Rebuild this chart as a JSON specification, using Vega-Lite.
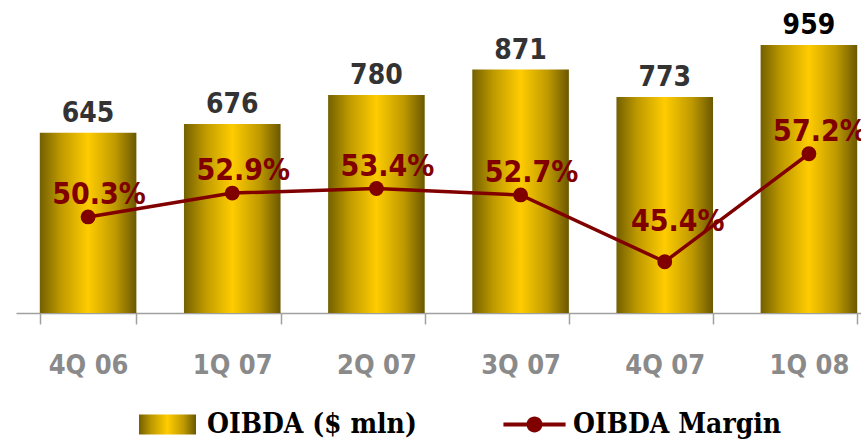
{
  "$schema": "https://vega.github.io/schema/vega-lite/v6.json",
  "width": 845,
  "height": 313,
  "autosize": "none",
  "padding": {"left": 16, "top": 0, "right": 0, "bottom": 126},
  "background": "white",
  "data": {
    "values": [
      {"q": "4Q 06", "oibda": 645, "margin": 0.503, "bar": "OIBDA ($ mln)", "series": "OIBDA Margin"},
      {"q": "1Q 07", "oibda": 676, "margin": 0.529, "bar": "OIBDA ($ mln)", "series": "OIBDA Margin"},
      {"q": "2Q 07", "oibda": 780, "margin": 0.534, "bar": "OIBDA ($ mln)", "series": "OIBDA Margin"},
      {"q": "3Q 07", "oibda": 871, "margin": 0.527, "bar": "OIBDA ($ mln)", "series": "OIBDA Margin"},
      {"q": "4Q 07", "oibda": 773, "margin": 0.454, "bar": "OIBDA ($ mln)", "series": "OIBDA Margin"},
      {"q": "1Q 08", "oibda": 959, "margin": 0.572, "bar": "OIBDA ($ mln)", "series": "OIBDA Margin"}
    ]
  },
  "encoding": {
    "x": {
      "field": "q", "type": "nominal", "sort": null, "title": null,
      "scale": {"range": [0, 865], "paddingInner": 0.33, "paddingOuter": 0.165},
      "axis": {
        "labelAngle": 0, "labelFont": "DejaVu Sans Condensed, DejaVu Sans", "labelFontWeight": "bold",
        "labelFontSize": 27, "labelColor": "#8a8a8a", "labelPadding": 28,
        "domainColor": "#a0a0a0", "domainWidth": 1.5, "tickColor": "#a0a0a0", "tickWidth": 1.5,
        "tickSize": 11, "tickBand": "extent", "grid": false
      }
    }
  },
  "layer": [
    {
      "mark": {
        "type": "bar",
        "strokeWidth": 0,
        "fill": {
          "gradient": "linear", "x1": 0, "x2": 1, "y1": 0, "y2": 0,
          "stops": [
            {"offset": 0, "color": "#736000"},
            {"offset": 0.22, "color": "#bf9a00"},
            {"offset": 0.5, "color": "#ffcc00"},
            {"offset": 0.78, "color": "#bf9a00"},
            {"offset": 1, "color": "#6b5800"}
          ]
        }
      },
      "encoding": {
        "y": {"field": "oibda", "type": "quantitative", "scale": {"domain": [0, 1120], "nice": false}, "axis": null},
        "stroke": {
          "field": "bar", "type": "nominal",
          "scale": {"range": ["#ffcc00"]},
          "legend": {
            "title": null, "orient": "none", "legendX": 123, "legendY": 396, "direction": "horizontal",
            "padding": 0, "symbolSize": 3249, "symbolType": "M-1,-0.35L1,-0.35L1,0.35L-1,0.35Z",
            "symbolStrokeWidth": 0, "symbolOpacity": 1,
            "labelFont": "DejaVu Serif Condensed, DejaVu Serif",
            "labelFontWeight": "bold", "labelFontSize": 28, "labelColor": "#000000", "labelOffset": 11,
            "labelLimit": 400
          }
        }
      }
    },
    {
      "mark": {"type": "text", "baseline": "alphabetic", "dy": -11, "font": "DejaVu Sans Condensed, DejaVu Sans", "fontWeight": "bold", "fontSize": 28},
      "encoding": {
        "y": {"field": "oibda", "type": "quantitative", "scale": {"domain": [0, 1120], "nice": false}, "axis": null},
        "text": {"field": "oibda", "type": "quantitative"},
        "color": {"condition": {"test": "datum.q === '1Q 08'", "value": "#000000"}, "value": "#333333"}
      }
    },
    {
      "mark": {"type": "line", "strokeWidth": 3.5, "point": {"size": 220, "filled": true, "opacity": 1}},
      "encoding": {
        "y": {"field": "margin", "type": "quantitative", "scale": {"domain": [0.398, 0.740], "nice": false, "zero": false}, "axis": null},
        "color": {
          "field": "series", "type": "nominal",
          "scale": {"range": ["#800000"]},
          "legend": {
            "title": null, "orient": "none", "legendX": 490, "legendY": 396, "direction": "horizontal",
            "padding": 0, "symbolSize": 3249,
            "symbolType": "M-1.09,-0.07L1.09,-0.07L1.09,0.07L-1.09,0.07Z M0.28,0 A0.28,0.28 0 1,1 -0.28,0 A0.28,0.28 0 1,1 0.28,0 Z",
            "symbolFillColor": "#800000", "symbolStrokeColor": "#800000", "symbolStrokeWidth": 0, "symbolOpacity": 1,
            "labelFont": "DejaVu Serif Condensed, DejaVu Serif",
            "labelFontWeight": "bold", "labelFontSize": 28, "labelColor": "#000000", "labelOffset": 10,
            "labelLimit": 400
          }
        }
      }
    },
    {
      "transform": [{"filter": "datum.q !== '4Q 07'"}],
      "mark": {"type": "text", "baseline": "alphabetic", "dx": 11, "dy": -13, "font": "DejaVu Sans Condensed, DejaVu Sans", "fontWeight": "bold", "fontSize": 30, "color": "#800000"},
      "encoding": {
        "y": {"field": "margin", "type": "quantitative", "scale": {"domain": [0.398, 0.740], "nice": false, "zero": false}, "axis": null},
        "text": {"field": "margin", "type": "quantitative", "format": ".1%"}
      }
    },
    {
      "transform": [{"filter": "datum.q === '4Q 07'"}],
      "mark": {"type": "text", "baseline": "alphabetic", "dx": 13, "dy": -31, "font": "DejaVu Sans Condensed, DejaVu Sans", "fontWeight": "bold", "fontSize": 30, "color": "#800000"},
      "encoding": {
        "y": {"field": "margin", "type": "quantitative", "scale": {"domain": [0.398, 0.740], "nice": false, "zero": false}, "axis": null},
        "text": {"field": "margin", "type": "quantitative", "format": ".1%"}
      }
    }
  ],
  "resolve": {"scale": {"y": "independent"}},
  "config": {"view": {"stroke": null}}
}
